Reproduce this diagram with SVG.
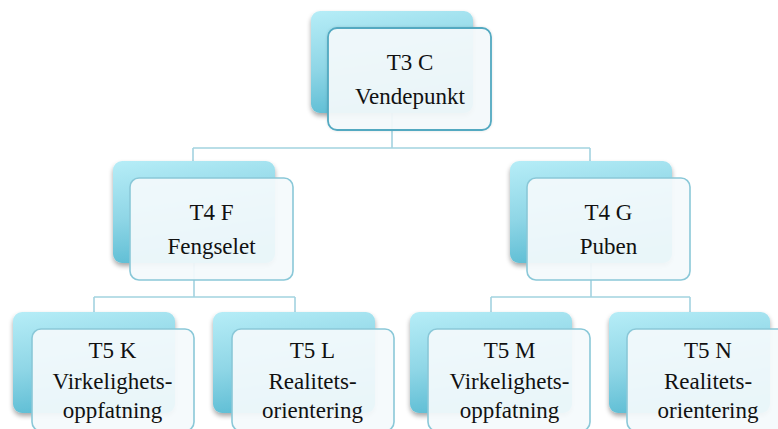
<svg xmlns="http://www.w3.org/2000/svg" width="778" height="429" viewBox="0 0 778 429">
  <defs>
    <linearGradient id="backFill" x1="0" y1="0" x2="0.25" y2="1">
      <stop offset="0" stop-color="#b6edf7"/>
      <stop offset="0.55" stop-color="#8fd6e6"/>
      <stop offset="1" stop-color="#5dbdd4"/>
    </linearGradient>
    <filter id="soft" x="-10%" y="-10%" width="125%" height="130%">
      <feGaussianBlur in="SourceAlpha" stdDeviation="2.5"/>
      <feOffset dx="0" dy="3" result="b"/>
      <feComponentTransfer><feFuncA type="linear" slope="0.35"/></feComponentTransfer>
      <feMerge><feMergeNode/><feMergeNode in="SourceGraphic"/></feMerge>
    </filter>
    <filter id="glow" x="-10%" y="-10%" width="120%" height="120%">
      <feGaussianBlur in="SourceAlpha" stdDeviation="1.5"/>
      <feComponentTransfer><feFuncA type="linear" slope="0.12"/></feComponentTransfer>
      <feMerge><feMergeNode/><feMergeNode in="SourceGraphic"/></feMerge>
    </filter>
  </defs>
  <style>
    .back { fill: url(#backFill); filter: url(#soft); }
    .front { fill: #f4fafc; fill-opacity: 0.93; stroke: #8ac8d8; stroke-width: 1.6; }
    .front.top { stroke: #52a9c1; stroke-width: 1.8; }
    .link { fill: none; stroke: #a3d3e0; stroke-width: 1.6; }
    .lbl { font-family: "Liberation Serif", "DejaVu Serif", serif; font-size: 23px; fill: #111; text-anchor: middle; }
  </style>

  <rect width="778" height="429" fill="#ffffff"/>

  <!-- connectors -->
  <g id="connectors">
    <path class="link" d="M392 113 V148 M193 148 H590 M193 148 V161 M590 148 V161"/>
    <path class="link" d="M194 263 V297 M94 297 H295 M94 297 V312 M295 297 V312"/>
    <path class="link" d="M591 263 V297 M491 297 H690 M491 297 V312 M690 297 V312"/>
  </g>

  <!-- T3 C -->
  <g id="t3c">
    <rect class="back" x="311" y="11" width="162" height="102" rx="9"/>
    <rect class="front top" x="328" y="28" width="163" height="102" rx="9" filter="url(#glow)"/>
    <text class="lbl" x="410" y="70">T3 C</text>
    <text class="lbl" x="410" y="104">Vendepunkt</text>
  </g>

  <!-- T4 F -->
  <g id="t4f">
    <rect class="back" x="113" y="161" width="162" height="102" rx="9"/>
    <rect class="front" x="130" y="178" width="163" height="102" rx="9"/>
    <text class="lbl" x="211.5" y="220">T4 F</text>
    <text class="lbl" x="211.5" y="254">Fengselet</text>
  </g>

  <!-- T4 G -->
  <g id="t4g">
    <rect class="back" x="510" y="161" width="162" height="102" rx="9"/>
    <rect class="front" x="527" y="178" width="163" height="102" rx="9"/>
    <text class="lbl" x="608.5" y="220">T4 G</text>
    <text class="lbl" x="608.5" y="254">Puben</text>
  </g>

  <!-- T5 K -->
  <g id="t5k">
    <rect class="back" x="13" y="312" width="162" height="101" rx="9"/>
    <rect class="front" x="32" y="329" width="162" height="102" rx="9"/>
    <text class="lbl" x="112.5" y="358">T5 K</text>
    <text class="lbl" x="112.5" y="389">Virkelighets-</text>
    <text class="lbl" x="112.5" y="418">oppfatning</text>
  </g>

  <!-- T5 L -->
  <g id="t5l">
    <rect class="back" x="213" y="312" width="162" height="101" rx="9"/>
    <rect class="front" x="232" y="329" width="162" height="102" rx="9"/>
    <text class="lbl" x="312.5" y="358">T5 L</text>
    <text class="lbl" x="312.5" y="389">Realitets-</text>
    <text class="lbl" x="312.5" y="418">orientering</text>
  </g>

  <!-- T5 M -->
  <g id="t5m">
    <rect class="back" x="410" y="312" width="162" height="101" rx="9"/>
    <rect class="front" x="428" y="329" width="162" height="102" rx="9"/>
    <text class="lbl" x="509.5" y="358">T5 M</text>
    <text class="lbl" x="509.5" y="389">Virkelighets-</text>
    <text class="lbl" x="509.5" y="418">oppfatning</text>
  </g>

  <!-- T5 N -->
  <g id="t5n">
    <rect class="back" x="609" y="312" width="161" height="101" rx="9"/>
    <rect class="front" x="627" y="329" width="162" height="102" rx="9"/>
    <text class="lbl" x="708" y="358">T5 N</text>
    <text class="lbl" x="708" y="389">Realitets-</text>
    <text class="lbl" x="708" y="418">orientering</text>
  </g>
</svg>
